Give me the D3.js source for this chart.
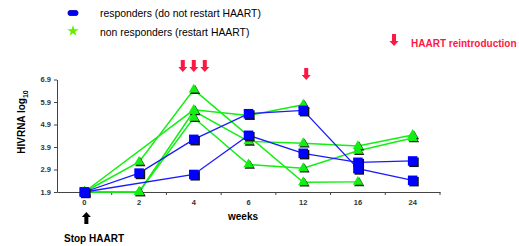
<!DOCTYPE html>
<html>
<head>
<meta charset="utf-8">
<script src="https://cdn.jsdelivr.net/npm/d3@7"></script>
<style>
  body { margin: 0; background: #fff; }
  svg { display: block; font-family: "Liberation Sans", Arial, sans-serif; }
</style>
</head>
<body>
<div id="chart"></div>
<script>
// weeks after stopping HAART
const weeks = ["0", "2", "4", "6", "12", "16", "24"];
const yTicks = [1.9, 2.9, 3.9, 4.9, 5.9, 6.9];

// HIV RNA (log10) per patient, null = no measurement
const responders = [
  [1.9, 2.74, 4.24, 5.38, 5.53, 2.94, 2.42],
  [1.9, null, 2.68, 4.42, 3.62, 3.22, 3.28],
];
const nonResponders = [
  [1.9, 3.24, 6.45, null, 2.33, 2.35, null],
  [1.9, null, 5.55, 5.3, 5.78, null, null],
  [1.9, 1.9, 5.5, 4.15, 4.07, 3.94, 4.43],
  [1.9, 1.9, 5.2, 3.12, 2.96, 3.73, 4.3],
];
// weeks where HAART was reintroduced (one arrow each)
const reintroArrows = [["4", -11], ["4", 0], ["4", 11], ["12", 3]];

const width = 519, height = 246;
const blue = "#0000ff", green = "#11f011", red = "#ff1744";

const svg = d3.select("#chart").append("svg")
  .attr("width", width).attr("height", height);

const x = d3.scaleBand().domain(weeks).range([57, 440]);
const y = d3.scaleLinear().domain([1.9, 6.9]).range([192, 79.5]);
const cx = (w) => x(w) + x.bandwidth() / 2;

// y axis
const yAxis = svg.append("g")
  .attr("transform", "translate(57,0)")
  .call(d3.axisLeft(y).tickValues(yTicks).tickSize(3).tickSizeOuter(0).tickFormat(d3.format(".1f")));
yAxis.select(".domain").attr("stroke", "#444");
yAxis.selectAll(".tick line").attr("stroke", "#444");
yAxis.selectAll("text").attr("font-size", 7.5).attr("font-weight", "bold").attr("fill", "#333").attr("x", -6);

// x axis, ticks sit between categories
const xAxis = svg.append("g")
  .attr("transform", "translate(0,192)")
  .call(d3.axisBottom(x).tickSize(0).tickSizeOuter(0).tickPadding(8));
xAxis.select(".domain").attr("stroke", "#444");
xAxis.selectAll("text").attr("font-size", 7.5).attr("font-weight", "bold").attr("fill", "#333");
xAxis.selectAll(".sep")
  .data(weeks)
  .join("line")
  .attr("class", "sep")
  .attr("x1", (d) => x(d) + x.bandwidth()).attr("x2", (d) => x(d) + x.bandwidth())
  .attr("y1", 0).attr("y2", 3)
  .attr("stroke", "#444");

svg.append("text")
  .attr("x", 243).attr("y", 220)
  .attr("text-anchor", "middle")
  .attr("font-size", 10).attr("font-weight", "bold")
  .text("weeks");

const yLabel = svg.append("text")
  .attr("transform", "translate(25,122) rotate(-90)")
  .attr("text-anchor", "middle")
  .attr("font-size", 10).attr("font-weight", "bold");
yLabel.append("tspan").text("HIVRNA log");
yLabel.append("tspan").attr("font-size", 7).attr("dy", 3).text("10");

const line = d3.line().x((d) => cx(d.w)).y((d) => y(d.v));
const toPoints = (row) => row.map((v, i) => ({ w: weeks[i], v })).filter((d) => d.v !== null);

// lines first, then markers on top
svg.append("g").selectAll("path")
  .data(nonResponders.map(toPoints))
  .join("path")
  .attr("d", line).attr("fill", "none").attr("stroke", green).attr("stroke-width", 1.5);
svg.append("g").selectAll("path")
  .data(responders.map(toPoints))
  .join("path")
  .attr("d", line).attr("fill", "none").attr("stroke", "#1a1aff").attr("stroke-width", 1.3);

const tri = d3.symbol().type(d3.symbolTriangle).size(46);
const triPts = nonResponders.flatMap(toPoints);
const triG = svg.append("g");
triG.selectAll(".shadow").data(triPts).join("path")
  .attr("class", "shadow")
  .attr("d", tri)
  .attr("transform", (d) => `translate(${cx(d.w) + 1.3},${y(d.v) + 1.3})`)
  .attr("fill", "#222");
triG.selectAll(".mark").data(triPts).join("path")
  .attr("class", "mark")
  .attr("d", tri)
  .attr("transform", (d) => `translate(${cx(d.w)},${y(d.v)})`)
  .attr("fill", green);

const sqPts = responders.flatMap(toPoints);
const sqG = svg.append("g");
sqG.selectAll(".shadow").data(sqPts).join("rect")
  .attr("class", "shadow")
  .attr("x", (d) => cx(d.w) - 3.4).attr("y", (d) => y(d.v) - 3.4)
  .attr("width", 9.5).attr("height", 9.5)
  .attr("fill", "#111");
sqG.selectAll(".mark").data(sqPts).join("rect")
  .attr("class", "mark")
  .attr("x", (d) => cx(d.w) - 4.75).attr("y", (d) => y(d.v) - 4.75)
  .attr("width", 9.5).attr("height", 9.5)
  .attr("fill", blue);

// thick arrow, tip at (0,0) pointing down, drawn at (px,py)
function arrow(g, px, py, color, up) {
  const p = "M-2,-12 L2,-12 L2,-5 L4.5,-5 L0,0 L-4.5,-5 L-2,-5 Z";
  g.append("path")
    .attr("d", p)
    .attr("transform", `translate(${px},${py})` + (up ? " scale(1,-1)" : ""))
    .attr("fill", color);
}

reintroArrows.forEach(([w, dx]) => {
  arrow(svg, cx(w) + dx, w === "12" ? 80 : 72, red, false);
});
arrow(svg, 394, 46, red, false);
svg.append("text")
  .attr("x", 411).attr("y", 47)
  .attr("font-size", 10).attr("font-weight", "bold")
  .attr("fill", red)
  .text("HAART reintroduction");

// stop HAART marker
arrow(svg, cx("0") + 2, 212, "#000", true);
svg.append("text")
  .attr("x", 94).attr("y", 242)
  .attr("text-anchor", "middle")
  .attr("font-size", 10).attr("font-weight", "bold")
  .text("Stop HAART");

// legend
const legend = svg.append("g");
legend.append("rect")
  .attr("x", 68).attr("y", 10.5).attr("width", 10).attr("height", 5).attr("rx", 2)
  .attr("fill", blue).attr("stroke", "#0000aa").attr("stroke-width", 0.8);
legend.append("path")
  .attr("d", d3.symbol().type(d3.symbolStar).size(40))
  .attr("transform", "translate(73,31)")
  .attr("fill", "#66ee00");
legend.append("text").attr("x", 100).attr("y", 17)
  .attr("font-size", 10.4).text("responders (do not restart HAART)");
legend.append("text").attr("x", 100).attr("y", 36)
  .attr("font-size", 10.4).text("non responders (restart HAART)");
</script>
</body>
</html>
